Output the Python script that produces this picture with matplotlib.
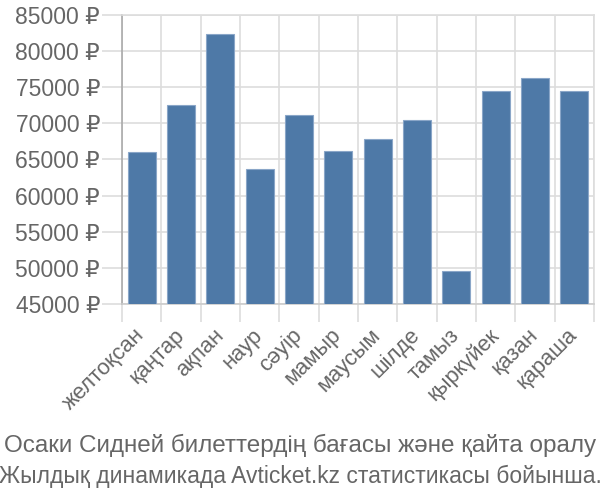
import matplotlib
matplotlib.use("Agg")
import matplotlib.pyplot as plt
import numpy as np

months = ["желтоқсан", "қаңтар", "ақпан", "наур", "сәуір", "мамыр",
          "маусым", "шілде", "тамыз", "қыркүйек", "қазан", "қараша"]
prices = [66000, 72450, 82400, 63650, 71150, 66150,
          67800, 70500, 49550, 74500, 76250, 74500]
yticks = [45000, 50000, 55000, 60000, 65000, 70000, 75000, 80000, 85000]
title_lines = ["Осаки Сидней билеттердің бағасы және қайта оралу",
               "Жылдық динамикада Avticket.kz статистикасы бойынша."]

plt.rcParams['font.family'] = ['Liberation Sans', 'DejaVu Sans']
text_color = '#666666'
grid_color = '#dddddd'
PX = 72 / 100  # points per pixel

fig = plt.figure(figsize=(6, 5), dpi=100)
ax = fig.add_axes([122/600, 1-304/500, (594-122)/600, (304-14.7)/500])

x = np.arange(len(months))
ax.bar(x, prices, width=0.72, color='#4e79a7', edgecolor='#8aa6c8', linewidth=0.8, zorder=3)
ax.set_xlim(-0.5, len(months)-0.5)
ax.set_ylim(yticks[0], yticks[-1])

ax.set_yticks(yticks)
ax.set_yticklabels([f"{v} ₽" for v in yticks])
ax.tick_params(axis='y', length=20*PX, color=grid_color, width=1.2, pad=2*PX,
               labelsize=16.5, labelcolor=text_color)
ax.yaxis.grid(True, color=grid_color, linewidth=1.2, zorder=0)

ax.set_xticks(x)
ax.set_xticklabels(months, rotation=45, ha='right', va='center', rotation_mode='anchor')
ax.tick_params(axis='x', which='major', length=0, pad=28*PX, labelsize=15.8, labelcolor=text_color)
ax.set_xticks(np.arange(-0.5, len(months)), minor=True)
ax.tick_params(axis='x', which='minor', length=18*PX, color=grid_color, width=1.2)
ax.xaxis.grid(True, which='minor', color=grid_color, linewidth=1.2, zorder=0)

for s in ['top', 'right']:
    ax.spines[s].set_color(grid_color)
    ax.spines[s].set_linewidth(1.2)
ax.spines['bottom'].set_color('#cccccc')
ax.spines['bottom'].set_linewidth(1.2)
ax.spines['left'].set_color('#aaaaaa')
ax.spines['left'].set_linewidth(1.2)

fig.text(0.5, 1-445/500, title_lines[0], ha='center', va='center', fontsize=17.5, color=text_color)
fig.text(0.5, 1-476/500, title_lines[1], ha='center', va='center', fontsize=16.5, color=text_color)

fig.savefig("out.png", dpi=100)
